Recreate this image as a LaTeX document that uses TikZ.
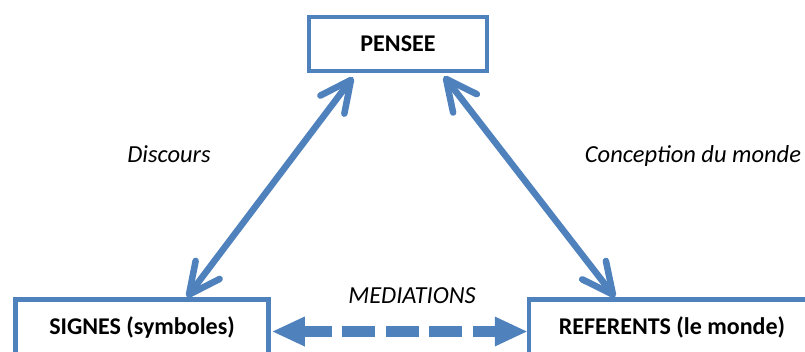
\documentclass[tikz,border=0pt]{standalone}
\usepackage{fontspec}
\setmainfont{Carlito}
\usetikzlibrary{arrows.meta}
\definecolor{officeblue}{HTML}{4F81BD}
\begin{document}
\begin{tikzpicture}[x=1pt,y=-1pt,
  box/.style={draw=officeblue, line width=4.5pt, fill=white, font=\bfseries\fontsize{24}{28}\selectfont, inner sep=0pt},
  biarrow/.style={draw=officeblue, line width=6.5pt, line cap=round, {Straight Barb[length=31pt,width=30pt,round]}-{Straight Barb[length=31pt,width=30pt,round]}},
  dasharrow/.style={draw=officeblue, line width=11pt, {Triangle[length=32pt,width=30pt,line width=0pt]}-{Triangle[length=32pt,width=30pt,line width=0pt]}, dash pattern=on 33pt off 10.5pt, dash phase=6pt},
  lbl/.style={font=\itshape\fontsize{24.5}{28}\selectfont, anchor=base, inner sep=0pt}]
\useasboundingbox (0,0) rectangle (805,351);
\clip (0,0) rectangle (805,351);
\fill[white] (0,0) rectangle (805,351);
\node[box, minimum width=178pt, minimum height=54pt] (pensee) at (398,44) {PENSEE};
\node[box, minimum width=253pt, minimum height=56pt] (signes) at (142,327.5) {SIGNES (symboles)};
\node[box, minimum width=286pt, minimum height=56pt] (referents) at (672,327.5) {REFERENTS (le monde)};
\node[lbl] (discours) at (169,162) {Discours};
\node[lbl] (conception) at (693,162) {Conception du monde};
\node[lbl] (mediations) at (412,303) {MEDIATIONS};
\draw[biarrow] ([xshift=-45pt,yshift=-4pt]pensee.south) -- ([xshift=45pt]signes.north);
\draw[biarrow] ([xshift=46pt,yshift=-3pt]pensee.south) -- ([xshift=-57pt]referents.north);
\draw[dasharrow] ([xshift=2pt,yshift=-4pt]signes.east) -- ([yshift=-4pt]referents.west);
\end{tikzpicture}
\end{document}
